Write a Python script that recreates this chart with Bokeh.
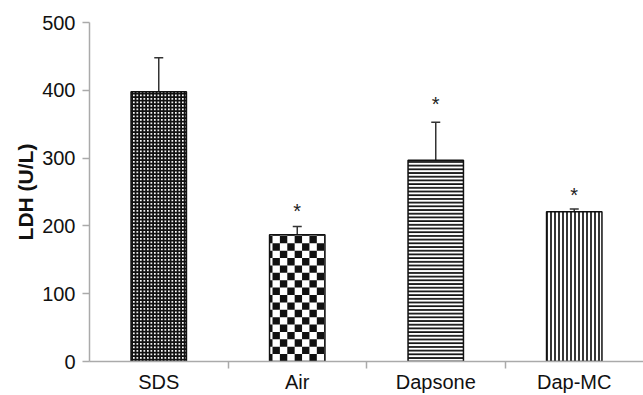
import numpy as np
from bokeh.plotting import figure
from bokeh.models import ColumnDataSource, FixedTicker, Range1d, Whisker
from bokeh.core.properties import value
from bokeh.embed import file_html
from bokeh.resources import INLINE

categories = ["SDS", "Air", "Dapsone", "Dap-MC"]
means = [398, 187, 297, 221]
errors = [50, 12, 56, 4]
star_groups = ["Air", "Dapsone", "Dap-MC"]
star_y = [237, 395, 261]
y_ticks = [0, 100, 200, 300, 400, 500]

xpos = list(range(len(categories)))
upper = [m + e for m, e in zip(means, errors)]
BAR_W = 0.4

p = figure(width=643, height=395, output_backend="svg", toolbar_location=None,
           x_range=Range1d(-0.5, len(categories) - 0.5), y_range=Range1d(0, 500),
           min_border_left=89, min_border_right=0, min_border_top=22, min_border_bottom=34)
p.outline_line_color = None
p.xgrid.visible = False
p.ygrid.visible = False

styles = [
    dict(fill_color="white", hatch_pattern="cross", hatch_scale=3.5, hatch_weight=2.2, hatch_color="#111111"),
    dict(fill_color="white"),
    dict(fill_color="white", hatch_pattern="horizontal_line", hatch_scale=3.7, hatch_weight=1.8, hatch_color="#111111"),
    dict(fill_color="white", hatch_pattern="vertical_line", hatch_scale=4.0, hatch_weight=1.7, hatch_color="#111111"),
]

# checkerboard cells for the "Air" bar (derived from its value)
ai = categories.index("Air")
cw = BAR_W / 7.5          # cell width in category units
ch = 10.9                 # cell height in data units
bl, br = xpos[ai] - BAR_W / 2, xpos[ai] + BAR_W / 2
xs = np.arange(bl - cw * 0.6, br, cw)
ys = np.arange(0, means[ai], ch)
L, R, B, T = [], [], [], []
for ix, x0 in enumerate(xs):
    for iy, y0 in enumerate(ys):
        if (ix + iy) % 2 == 0:
            l, r = max(x0, bl), min(x0 + cw, br)
            b, t = y0, min(y0 + ch, means[ai])
            if r > l and t > b:
                L.append(l); R.append(r); B.append(b); T.append(t)

for i, st in enumerate(styles):
    src = ColumnDataSource(dict(x=[xpos[i]], top=[means[i]]))
    p.vbar(x="x", top="top", bottom=0, width=BAR_W, source=src,
           line_color=None, **st)
    if i == ai:
        p.quad(left=L, right=R, bottom=B, top=T, fill_color="#111111", line_color=None)
    p.vbar(x="x", top="top", bottom=0, width=BAR_W, source=src,
           fill_color=None, line_color="#111111", line_width=1.5)

err_src = ColumnDataSource(dict(x=xpos, lower=means, upper=upper))
w = Whisker(base="x", lower="lower", upper="upper", source=err_src,
            line_color="#333333", line_width=1.5, lower_head=None)
w.upper_head.size = 9
w.upper_head.line_color = "#333333"
w.upper_head.line_width = 1.5
p.add_layout(w)

star_src = ColumnDataSource(dict(x=[categories.index(g) for g in star_groups], y=star_y,
                                 t=["*"] * len(star_groups)))
p.text(x="x", y="y", text="t", source=star_src, text_align="center", text_baseline="alphabetic",
       y_offset=10, text_font=value("Liberation Sans"), text_font_size="20px", text_color="#222222")

# y axis
ya = p.yaxis[0]
ya.ticker = FixedTicker(ticks=y_ticks)
ya.axis_label = "LDH (U/L)"
ya.axis_label_text_font = "Liberation Sans"
ya.axis_label_text_font_style = "bold"
ya.axis_label_text_font_size = "21px"
ya.axis_label_text_color = "#111111"
ya.axis_label_standoff = 2
ya.major_label_text_font = "Liberation Sans"
ya.major_label_text_font_size = "20px"
ya.major_label_text_color = "#111111"
ya.major_label_standoff = 7
ya.axis_line_color = "#aaaaaa"
ya.axis_line_width = 1.5
ya.major_tick_line_color = "#aaaaaa"
ya.major_tick_line_width = 1.5
ya.major_tick_out = 7
ya.major_tick_in = 0
ya.minor_tick_line_color = None

# x axis
xa = p.xaxis[0]
xa.ticker = FixedTicker(ticks=xpos, minor_ticks=[i + 0.5 for i in xpos[:-1]])
xa.major_label_overrides = {i: c for i, c in enumerate(categories)}
xa.major_label_text_font = "Liberation Sans"
xa.major_label_text_font_size = "20px"
xa.major_label_text_color = "#111111"
xa.major_tick_line_color = None
xa.major_tick_out = 0
xa.major_tick_in = 0
xa.major_label_standoff = 2
xa.minor_tick_line_color = "#aaaaaa"
xa.minor_tick_line_width = 1.5
xa.minor_tick_out = 7
xa.minor_tick_in = 0
xa.axis_line_color = "#aaaaaa"
xa.axis_line_width = 1.5

open("out.html", "w").write(file_html(p, INLINE))
